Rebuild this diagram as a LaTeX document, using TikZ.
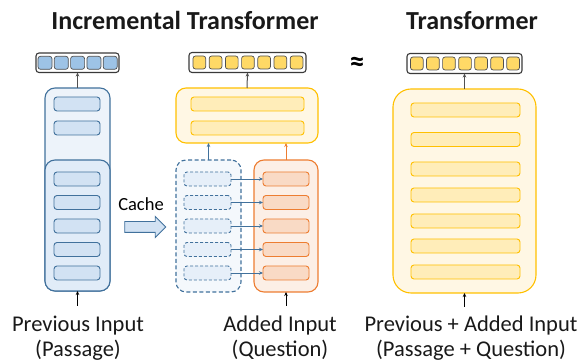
\documentclass[tikz,border=0pt]{standalone}
\usepackage{fontspec}
\setmainfont{Carlito}
\usetikzlibrary{arrows.meta,shapes.arrows}
\definecolor{bstroke}{HTML}{41719C}
\definecolor{bfillA}{HTML}{EDF3FA}
\definecolor{bfillB}{HTML}{E1ECF8}
\definecolor{bbar}{HTML}{D2E2F3}
\definecolor{bcell}{HTML}{9DC3E6}
\definecolor{dfill}{HTML}{F4F8FC}
\definecolor{dbar}{HTML}{E6EFF9}
\definecolor{ystroke}{HTML}{FFC000}
\definecolor{yfill}{HTML}{FFF7E4}
\definecolor{ybar}{HTML}{FFEDB9}
\definecolor{ycell}{HTML}{FFD966}
\definecolor{ostroke}{HTML}{ED7D31}
\definecolor{ofill}{HTML}{FCEFE6}
\definecolor{obar}{HTML}{F9DAC5}
\definecolor{vstroke}{HTML}{3A3A3A}
\definecolor{gline}{HTML}{505050}
\begin{document}
\begin{tikzpicture}[x=1pt,y=-1pt,
  every node/.style={inner sep=0pt, outer sep=0pt},
  rbox/.style={draw, anchor=north west, line width=1.1pt},
  vecbox/.style={draw=vstroke, fill=white, rounded corners=3pt, line width=1.1pt, anchor=north west},
  cellA/.style={draw=gline, line width=0.7pt, rounded corners=2.5pt, anchor=north west, minimum width=14pt, minimum height=13pt},
  cellB/.style={draw=gline, line width=0.7pt, rounded corners=2.5pt, anchor=north west, minimum width=12.7pt, minimum height=13pt},
  bluebar/.style={rbox, draw=bstroke, fill=bbar, rounded corners=3pt, line width=0.9pt, minimum height=14pt},
  dashbar/.style={rbox, draw=bstroke, fill=dbar, rounded corners=3pt, line width=0.9pt, dashed, dash pattern=on 3pt off 2pt, minimum height=14pt},
  yelbar/.style={rbox, draw=ystroke, fill=ybar, rounded corners=3pt, line width=0.9pt, minimum height=14pt},
  orbar/.style={rbox, draw=ostroke, fill=obar, rounded corners=3pt, line width=0.9pt, minimum height=14pt},
  darr/.style={draw=gline, line width=1pt, -{Stealth[length=4pt,width=3.5pt]}},
  karr/.style={draw=black, line width=0.8pt, -{Stealth[length=4pt,width=3.5pt]}},
  barr/.style={draw=bstroke, line width=0.9pt, -{Stealth[length=4pt,width=3.5pt]}},
  oarr/.style={draw=ostroke, line width=0.9pt, -{Stealth[length=4pt,width=3.5pt]}},
  title/.style={font=\bfseries\fontsize{26}{30}\selectfont, anchor=base, text=black!90},
  lab/.style={font=\fontsize{22.5}{26}\selectfont, anchor=base, text=black!90}
]
\useasboundingbox (0,0) rectangle (582,363);

% titles
\node[title] (t1) at (185,30) {Incremental Transformer};
\node[title] (t2) at (472,30) {Transformer};
\node[font=\bfseries\fontsize{30}{34}\selectfont] (approx) at (357,64) {≈};

% ---------------- left column
\node[vecbox, minimum width=83pt, minimum height=19.5pt] (lvec) at (36,53) {};
\foreach \i in {0,...,4} \node[cellA, fill=bcell] (lc\i) at ({38+16.3*\i},56.3) {};
\node[rbox, draw=bstroke, fill=bfillA, rounded corners=10pt, minimum width=65pt, minimum height=203pt] (lup) at (45,88) {};
\node[rbox, draw=bstroke, fill=bfillB, rounded corners=10pt, minimum width=65pt, minimum height=131pt] (llow) at (45,160) {};
\node[bluebar, minimum width=46pt] (lu1) at (54,97) {};
\node[bluebar, minimum width=46pt] (lu2) at (54,121) {};
\foreach \y [count=\k] in {172,195.5,219,242.5,266}
  \node[bluebar, minimum width=46pt] (lb\k) at (54,\y) {};
\draw[darr] (lup.north) -- (lvec.south);
\coordinate (lin) at (77.5,306);
\draw[karr] (lin) -- (llow.south);
\node[lab] (l1a) at (78,332) {Previous Input};
\node[lab] (l1b) at (78,357) {(Passage)};

% cache arrow
\node[font=\fontsize{18.5}{22}\selectfont, anchor=base] (cache) at (141,211) {Cache};
\node[single arrow, draw=bstroke, fill=bbar, line width=0.9pt, minimum height=41pt,
      inner ysep=5pt, single arrow head extend=5pt, single arrow tip angle=90] (carr) at (142.5,227) {};

% ---------------- middle column
\node[vecbox, minimum width=117pt, minimum height=20pt] (mvec) at (189,52.5) {};
\foreach \i in {0,...,6} \node[cellB, fill=ycell] (mc\i) at ({193+16.2*\i},56) {};
\node[rbox, draw=ystroke, fill=yfill, rounded corners=10pt, minimum width=142pt, minimum height=55pt] (mup) at (176,88) {};
\node[yelbar, minimum width=113pt] (mu1) at (191,97) {};
\node[yelbar, minimum width=113pt] (mu2) at (191,121) {};
\draw[darr] (mup.north) -- (mvec.south);

\node[rbox, draw=bstroke, fill=dfill, rounded corners=10pt, dashed, dash pattern=on 4pt off 2.5pt, minimum width=65pt, minimum height=132pt] (dbox) at (176,160) {};
\node[rbox, draw=ostroke, fill=ofill, rounded corners=10pt, minimum width=64pt, minimum height=132pt] (obox) at (254,160) {};
\foreach \y [count=\k] in {172,195.5,219,242.5,266} {
  \node[dashbar, minimum width=47pt] (db\k) at (184,\y) {};
  \node[orbar, minimum width=46pt] (ob\k) at (263,\y) {};
  \draw[barr] (db\k.east) -- (ob\k.west);
}
\draw[barr] (dbox.north) -- (dbox.north |- mup.south);
\draw[oarr] (obox.north) -- (obox.north |- mup.south);
\coordinate (oin) at (286,306);
\draw[karr] (oin) -- (obox.south);
\node[lab] (l2a) at (280,332) {Added Input};
\node[lab] (l2b) at (280,357) {(Question)};

% ---------------- right column
\node[vecbox, minimum width=115pt, minimum height=20pt] (rvec) at (407,53.5) {};
\foreach \i in {0,...,6} \node[cellB, fill=ycell] (rc\i) at ({410.5+16.05*\i},57) {};
\node[rbox, draw=ystroke, fill=yfill, rounded corners=18pt, minimum width=143pt, minimum height=204pt] (rbig) at (393,89) {};
\foreach \y [count=\k] in {103,132.5,162,188,214,239,265}
  \node[yelbar, minimum width=109pt] (rb\k) at (411,\y) {};
\draw[darr] (rbig.north) -- (rvec.south);
\coordinate (rin) at (464.5,307);
\draw[karr] (rin) -- (rbig.south);
\node[lab] (l3a) at (471,332) {Previous + Added Input};
\node[lab] (l3b) at (471,357) {(Passage + Question)};
\end{tikzpicture}
\end{document}
